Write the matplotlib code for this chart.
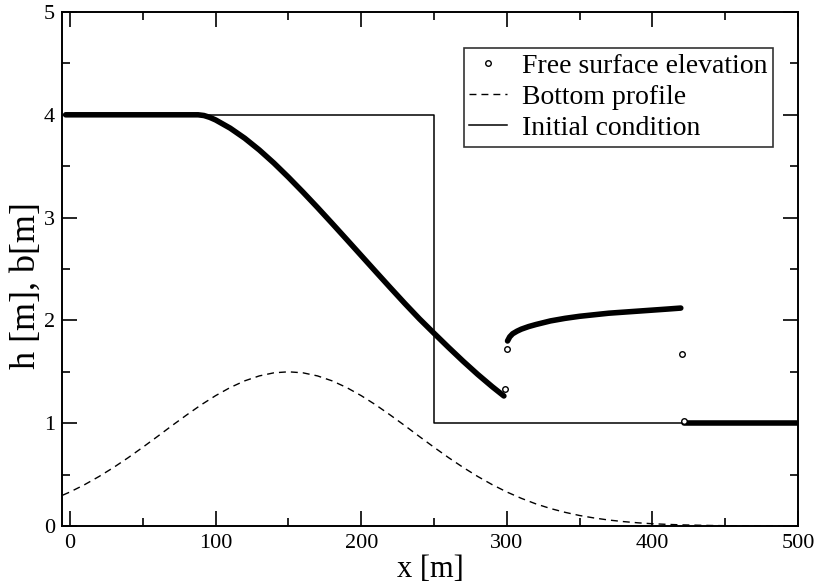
import matplotlib
matplotlib.use("Agg")
import matplotlib.pyplot as plt
from matplotlib.lines import Line2D
from matplotlib.ticker import MultipleLocator

plt.rcParams['font.family'] = ['Liberation Serif', 'DejaVu Serif']
plt.rcParams['lines.scale_dashes'] = False

# Free surface elevation h(x): smooth segments (dense cell output)
fs_left_x = [-3, 88, 92, 96, 100, 110, 120, 130, 140, 150, 160, 170, 180, 190,
             200, 210, 220, 230, 240, 250, 260, 270, 280, 290, 298]
fs_left_h = [4.0, 4.0, 3.993, 3.975, 3.95, 3.87, 3.772, 3.658, 3.531, 3.393, 3.248,
             3.098, 2.944, 2.788, 2.631, 2.474, 2.318, 2.164, 2.015, 1.875, 1.737,
             1.603, 1.475, 1.355, 1.265]
fs_mid_x = [300.5, 302, 304, 307, 310, 315, 320, 330, 340, 350, 360, 370, 380, 390,
            400, 410, 419.5]
fs_mid_h = [1.80, 1.84, 1.87, 1.895, 1.915, 1.94, 1.96, 1.995, 2.02, 2.04, 2.055,
            2.07, 2.08, 2.09, 2.10, 2.11, 2.12]
fs_right_x = [421.5, 500]
fs_right_h = [1.0, 1.0]
# Isolated cells inside the two discontinuities
fs_iso_x = [299, 300, 420, 421.5]
fs_iso_h = [1.33, 1.72, 1.67, 1.02]

# Bottom profile b(x)
bot_x = [-5, 0, 10, 20, 30, 40, 50, 60, 70, 80, 90, 100, 110, 120, 130, 140, 150,
         160, 170, 180, 190, 200, 210, 220, 230, 240, 250, 260, 270, 280, 290, 300,
         310, 320, 330, 340, 350, 360, 370, 380, 390, 400, 410, 420, 430, 440, 450,
         460, 470, 480, 490, 500]
bot_b = [0.30, 0.331, 0.402, 0.482, 0.570, 0.665, 0.766, 0.870, 0.976, 1.079, 1.178,
         1.268, 1.347, 1.412, 1.460, 1.490, 1.5, 1.490, 1.460, 1.412, 1.347, 1.268,
         1.178, 1.079, 0.976, 0.870, 0.766, 0.665, 0.570, 0.482, 0.402, 0.331, 0.269,
         0.215, 0.170, 0.133, 0.102, 0.078, 0.058, 0.043, 0.031, 0.022, 0.016, 0.011,
         0.008, 0.005, 0.003, 0.002, 0.001, 0.001, 0.0, 0.0]

# Initial condition (dam break at x = 250 m)
ic_x = [0, 250, 250, 500]
ic_h = [4, 4, 1, 1]

fig = plt.figure(figsize=(8.16, 5.86), dpi=100)
ax = fig.add_axes([62 / 816, 60 / 586, 736 / 816, 514 / 586])

ax.plot(ic_x, ic_h, color='black', lw=1.1, zorder=2)
ax.plot(bot_x, bot_b, color='black', lw=1.0, dashes=(5, 3.6), zorder=2)
for xs, hs in ((fs_left_x, fs_left_h), (fs_mid_x, fs_mid_h), (fs_right_x, fs_right_h)):
    ax.plot(xs, hs, color='black', lw=4.0, solid_capstyle='round',
            solid_joinstyle='round', zorder=3)
ax.plot(fs_iso_x, fs_iso_h, ls='none', marker='o', ms=4, mfc='white',
        mec='black', mew=1.0, zorder=4)

ax.set_xlim(-5.5, 500)
ax.set_ylim(0, 5)
ax.xaxis.set_major_locator(MultipleLocator(100))
ax.xaxis.set_minor_locator(MultipleLocator(50))
ax.yaxis.set_major_locator(MultipleLocator(1))
ax.yaxis.set_minor_locator(MultipleLocator(0.5))
ax.tick_params(which='both', direction='in', top=True, right=True, width=1.2,
               labelsize=16)
ax.tick_params(which='major', length=11)
ax.tick_params(which='minor', length=6)
ax.tick_params(axis='x', pad=6)
ax.tick_params(axis='y', pad=5)
for sp in ax.spines.values():
    sp.set_linewidth(1.4)

ax.set_xlabel('x [m]', fontsize=22, labelpad=1)
ax.set_ylabel('h [m], b[m]', fontsize=26, va='center')
ax.yaxis.set_label_coords(-0.049, 0.467)

handles = [
    Line2D([], [], ls='none', marker='o', ms=4, mfc='white', mec='black', mew=1.0),
    Line2D([], [], color='black', lw=1.0, dashes=(5, 3.6)),
    Line2D([], [], color='black', lw=1.1),
]
labels = ['Free surface elevation', 'Bottom profile', 'Initial condition']
leg = ax.legend(handles, labels, loc='upper right', bbox_to_anchor=(0.966, 0.930),
                fontsize=20, frameon=True, fancybox=False, shadow=False,
                handlelength=1.35, handletextpad=0.55, borderpad=0.2,
                labelspacing=0.2, borderaxespad=0)
leg.get_frame().set_edgecolor('black')
leg.get_frame().set_linewidth(1.2)

fig.savefig('out.png', dpi=100)
